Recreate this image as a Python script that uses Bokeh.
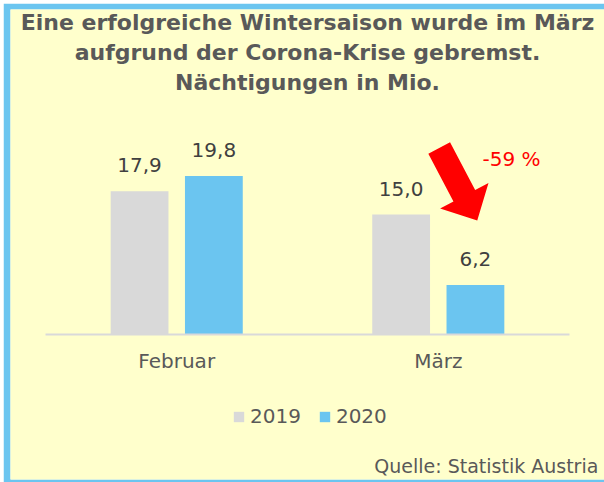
from bokeh.plotting import figure
from bokeh.models import (ColumnDataSource, FactorRange, Range1d, Legend, LegendItem,
                          Label)
from bokeh.transform import dodge
from bokeh.core.properties import value
from bokeh.embed import file_html
from bokeh.resources import INLINE

# ---- data ----
months = ["Februar", "März"]
years = ["2019", "2020"]
v2019 = [17.9, 15.0]
v2020 = [19.8, 6.2]
change_text = "-59 %"
title_lines = ["Eine erfolgreiche Wintersaison wurde im März",
               "aufgrund der Corona-Krise gebremst.",
               "Nächtigungen in Mio."]
source_note = "Quelle: Statistik Austria"

# annotation positions (data coordinates: synthetic x, y in Mio.)
arrow_x = [1.462, 1.545, 1.641, 1.692, 1.649, 1.507, 1.558]
arrow_y = [22.60, 24.03, 18.05, 18.94, 14.24, 15.74, 16.63]
change_pos = (1.78, 21.9)
source_pos = (2.112, -16.44)
title_x = 1.0
title_y = [38.94, 35.19, 31.45]

# ---- styles ----
YELLOW = "#FFFFCC"
BLUE = "#6BC5F0"
GRAY = "#D9D9D9"
TXT = "#595959"
LBL = "#404040"
RED = "#FF0000"
FONT = "DejaVu Sans"


def fmt(v):
    return f"{v:.1f}".replace(".", ",")


src = ColumnDataSource(dict(m=months, a=v2019, b=v2020,
                            la=[fmt(v) for v in v2019],
                            lb=[fmt(v) for v in v2020]))

p = figure(width=601, height=479,
           x_range=FactorRange(factors=months, range_padding=0.1355,
                               range_padding_units="absolute", factor_padding=0),
           y_range=Range1d(-18.125, 40.625),
           output_backend="svg", toolbar_location=None,
           title_location=None, y_axis_location=None,
           min_border_left=7, min_border_right=0,
           min_border_top=6, min_border_bottom=3)

p.styles = {"margin-left": "3px", "margin-top": "3px"}

p.background_fill_color = YELLOW
p.border_fill_color = BLUE
p.outline_line_color = None
p.grid.visible = False

off = 0.142
bw = 0.221
r19 = p.vbar(x=dodge("m", -off, range=p.x_range), top="a", width=bw, source=src,
             fill_color=GRAY, line_color=None)
r20 = p.vbar(x=dodge("m", off, range=p.x_range), top="b", width=bw, source=src,
             fill_color=BLUE, line_color=None)

for col, lab, d in (("a", "la", -off), ("b", "lb", off)):
    p.text(x=dodge("m", d, range=p.x_range), y=col, text=lab, source=src,
           y_offset=-26, text_align="center", text_baseline="middle",
           text_font=value(FONT), text_font_size="20px", text_color=LBL)

# arrow + change label
p.patch(arrow_x, arrow_y, fill_color=RED, line_color=None)
p.add_layout(Label(x=change_pos[0], y=change_pos[1], text=change_text,
                   text_align="center", text_baseline="middle",
                   text_font=FONT, text_font_size="20px", text_color=RED))

# axis drawn at zero, spanning the two categories
ax = p.xaxis[0]
ax.fixed_location = 0
ax.bounds = (0, 2)
ax.axis_line_color = GRAY
ax.axis_line_width = 2
ax.major_tick_line_color = None
ax.minor_tick_line_color = None
ax.major_tick_in = 0
ax.major_tick_out = 0
ax.major_label_standoff = 14
ax.major_label_text_font = FONT
ax.major_label_text_font_size = "20px"
ax.major_label_text_color = TXT

# title lines
for txt, ty in zip(title_lines, title_y):
    p.add_layout(Label(x=title_x, y=ty, text=txt, text_align="center",
                       text_baseline="middle", text_font=FONT,
                       text_font_size="22px", text_font_style="bold",
                       text_color=TXT))

# legend
legend = Legend(items=[LegendItem(label=years[0], renderers=[r19]),
                       LegendItem(label=years[1], renderers=[r20])],
                orientation="horizontal", location=(222, 51),
                glyph_width=13, glyph_height=13, label_standoff=5, spacing=17,
                padding=0, margin=0, border_line_color=None,
                background_fill_alpha=0,
                label_text_font=FONT, label_text_font_size="20px",
                label_text_color=TXT)
p.add_layout(legend, "center")

# source
p.add_layout(Label(x=source_pos[0], y=source_pos[1], text=source_note,
                   text_align="right", text_baseline="middle",
                   text_font=FONT, text_font_size="19px", text_color=TXT))

open("out.html", "w").write(file_html(p, INLINE))
